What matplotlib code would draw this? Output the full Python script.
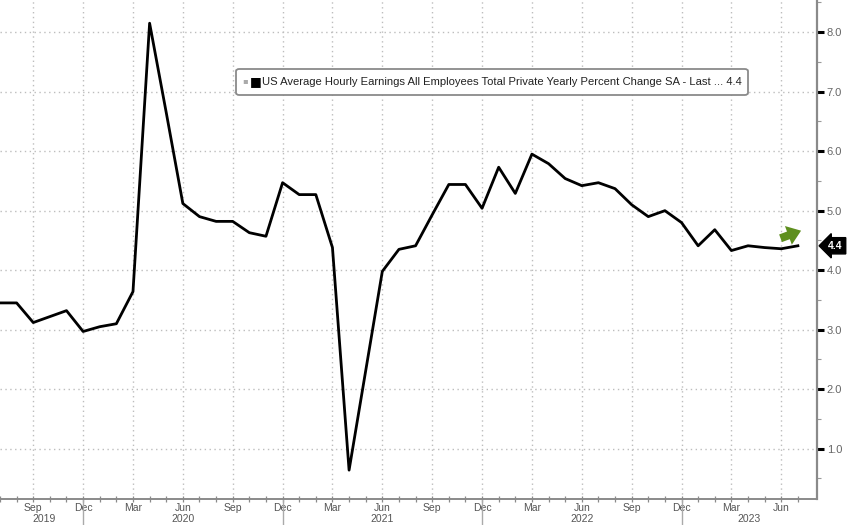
import matplotlib
matplotlib.use("Agg")
import matplotlib.pyplot as plt
import matplotlib.transforms as mtransforms
from matplotlib.patches import FancyBboxPatch

# ---- data ----
months = ["Jul", "Aug", "Sep", "Oct", "Nov", "Dec"] + \
         ["Jan", "Feb", "Mar", "Apr", "May", "Jun", "Jul", "Aug", "Sep", "Oct", "Nov", "Dec"] * 3 + \
         ["Jan", "Feb", "Mar", "Apr", "May", "Jun", "Jul"]
years = ["2019", "2020", "2021", "2022", "2023"]
values = [3.45, 3.45, 3.12, 3.22, 3.32, 2.97,
          3.05, 3.10, 3.64, 8.15, 6.65, 5.12, 4.90, 4.82, 4.82, 4.63, 4.57, 5.47,
          5.27, 5.27, 4.38, 0.64, 2.31, 3.98, 4.35, 4.41, 4.93, 5.44, 5.44, 5.04,
          5.73, 5.29, 5.95, 5.79, 5.54, 5.42, 5.47, 5.37, 5.10, 4.90, 5.00, 4.80,
          4.41, 4.68, 4.33, 4.41, 4.38, 4.36, 4.41]
yticks = [1, 2, 3, 4, 5, 6, 7, 8]
last_label = "4.4"
legend_text = "US Average Hourly Earnings All Employees Total Private Yearly Percent Change SA - Last ... 4.4"

FONT = ["Liberation Sans", "DejaVu Sans"]
plt.rcParams["font.family"] = FONT

W, H = 848, 525
fig = plt.figure(figsize=(W / 100, H / 100), dpi=100)
ax = fig.add_axes([0, 26 / H, 817 / W, 499 / H])

x = list(range(len(values)))
ax.plot(x, values, color="black", lw=2.0, solid_joinstyle="round", zorder=3)

ax.set_xlim(0.25, 49.15)
ax.set_ylim(0.155, 8.54)

# grid
grid_style = dict(color="#bdbdbd", lw=1.0, linestyle=(0, (1, 2.5)))
ax.grid(True, which="major", **grid_style)
ax.set_axisbelow(True)

# spines
for s in ["left", "top"]:
    ax.spines[s].set_visible(False)
ax.spines["right"].set_color("#8a8a8a")
ax.spines["right"].set_linewidth(1.6)
ax.spines["bottom"].set_color("#8a8a8a")
ax.spines["bottom"].set_linewidth(1.4)

# y axis on right
ax.yaxis.tick_right()
ax.set_yticks(yticks)
ax.set_yticklabels([f"{v:.1f}" for v in yticks])
ax.set_yticks([v + 0.5 for v in yticks[:-1]] + [0.5, 8.5], minor=True)
ax.tick_params(axis="y", which="major", direction="out", length=5, width=2.2,
               color="black", labelsize=8, labelcolor="#666666", pad=2)
ax.tick_params(axis="y", which="minor", direction="out", length=3, width=0.8, color="#999999")

# x axis
major_idx = [i for i, m in enumerate(months) if m in ("Mar", "Jun", "Sep", "Dec")]
ax.set_xticks(major_idx)
ax.set_xticklabels([months[i] for i in major_idx])
ax.set_xticks(x, minor=True)
ax.tick_params(axis="x", which="both", direction="inout", length=5, width=0.9,
               color="#8a8a8a", labelsize=7.5, labelcolor="#555555", pad=0.5)

# year labels & separators
trans = mtransforms.blended_transform_factory(ax.transData, ax.transAxes)
dec_idx = [i for i, m in enumerate(months) if m == "Dec"]
bounds = [0.25] + dec_idx + [49.15]
for k, yr in enumerate(years):
    cx = (bounds[k] + bounds[k + 1]) / 2
    ax.text(cx, -20 / 499, yr, transform=trans, ha="center", va="center",
            fontsize=7.5, color="#555555")
for d in dec_idx:
    ax.plot([d, d], [0, -26 / 499], transform=trans, color="#aaaaaa", lw=1.0, clip_on=False)

# last value tag
ax.annotate(last_label, xy=(1.0, values[-1]), xycoords=("axes fraction", "data"),
            xytext=(8, 0), textcoords="offset points", ha="left", va="center",
            fontsize=7.5, color="white", fontweight="bold",
            bbox=dict(boxstyle="larrow,pad=0.3", fc="black", ec="black"),
            annotation_clip=False)

# green arrow
ax.annotate("", xy=(48.35, 4.68), xytext=(46.8, 4.52),
            arrowprops=dict(arrowstyle="simple,head_width=1.1,head_length=0.75,tail_width=0.45",
                            mutation_scale=13, color="#5e8f1e", lw=0), zorder=4)

# legend box
box = FancyBboxPatch((236 / W, 1 - 95 / H), (748 - 236) / W, 26 / H,
                     boxstyle="round,pad=0,rounding_size=0.004",
                     transform=fig.transFigure, fc="white", ec="#8a8a8a", lw=1.3, zorder=5)
fig.patches.append(box)
fig.text(262 / W, 1 - 82 / H, legend_text, fontsize=8.1, color="#222222",
         ha="left", va="center", zorder=6)
fig.text(250 / W, 1 - 82 / H, "\u25A0", fontsize=9, color="black", ha="left", va="center",
         family=["DejaVu Sans"], zorder=6)
fig.text(242 / W, 1 - 81 / H, "\u25AA", fontsize=6, color="#aaaaaa", ha="left", va="center",
         family=["DejaVu Sans"], zorder=6)

fig.savefig("out.png", dpi=100)
